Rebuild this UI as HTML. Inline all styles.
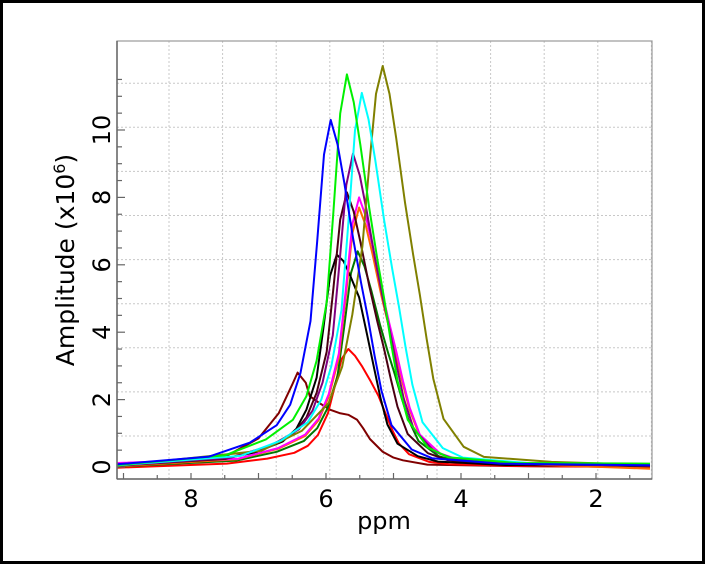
<!DOCTYPE html>
<html><head><meta charset="utf-8"><style>
html,body{margin:0;padding:0;background:#fff;}
svg{display:block;font-family:"DejaVu Sans","Liberation Sans",sans-serif;}
</style></head><body>
<svg id="chart" width="705" height="564" viewBox="0 0 705 564" xmlns="http://www.w3.org/2000/svg">
<rect x="1.5" y="1.5" width="702" height="561" fill="#fff" stroke="#000" stroke-width="3"/>
<g id="grid"></g>
<g id="series"></g>
<rect x="117" y="41" width="535" height="438" fill="none" stroke="#999" stroke-width="1.2"/>
<line x1="117" y1="41" x2="117" y2="479" stroke="#666" stroke-width="1.5"/>
<line x1="117" y1="479" x2="652" y2="479" stroke="#666" stroke-width="1.5"/>
<g id="axes"></g>
<text x="0" y="0" transform="translate(74,260) rotate(-90)" text-anchor="middle" font-size="25" fill="#000">Amplitude (x10<tspan baseline-shift="super" font-size="16">6</tspan>)</text>
<text x="384" y="529" text-anchor="middle" font-size="24" fill="#000">ppm</text>
</svg>
<script>
const xTickLabels = [8, 6, 4, 2];
const yTickLabels = [0, 2, 4, 6, 8, 10];
const seriesNames = ["brown","red","darkgreen","black","orange","magenta","maroon","purple","olive","cyan","green","blue"];
const seriesColors = ["#800000","#ff0000","#007800","#000000","#ff6a00","#ff00ff","#4a0012","#800080","#808000","#00ffff","#00f000","#0000ff"];
const ppmBlue = [9.1,7.73,7.13,6.73,6.53,6.38,6.23,6.13,6.03,5.93,5.83,5.73,5.60,5.48,5.38,5.28,5.18,5.03,4.73,4.43,3.43,1.2];
const ampBlue = [0.08,0.31,0.72,1.24,1.85,2.78,4.33,6.7,9.27,10.3,9.58,8.45,6.8,5.46,4.43,3.3,2.27,1.24,0.52,0.26,0.1,0.05];
const ppmGreen = [9.1,7.49,6.89,6.49,6.29,6.14,5.99,5.89,5.79,5.69,5.59,5.49,5.36,5.24,5.14,5.04,4.94,4.79,4.49,4.19,3.19,1.2];
const ampGreen = [0.06,0.35,0.82,1.4,2.1,3.15,4.89,7.57,10.49,11.65,10.83,9.55,7.69,6.17,5.01,3.73,2.56,1.4,0.58,0.29,0.12,0.1];
const ppmCyan = [9.1,7.27,6.67,6.27,6.07,5.92,5.77,5.67,5.57,5.47,5.37,5.27,5.14,5.02,4.92,4.82,4.72,4.57,4.27,3.97,2.97,1.2];
const ampCyan = [0.05,0.33,0.78,1.33,2.0,3.0,4.66,7.22,9.99,11.1,10.32,9.1,7.33,5.88,4.77,3.55,2.44,1.33,0.56,0.28,0.11,0.07];
const ppmOlive = [9.1,6.96,6.36,5.96,5.76,5.61,5.46,5.36,5.26,5.16,5.06,4.96,4.83,4.71,4.61,4.51,4.41,4.26,3.96,3.66,2.66,1.2];
const ampOlive = [0.04,0.48,1.07,1.9,2.98,4.52,6.55,8.93,11.07,11.9,11.07,9.76,7.85,6.31,5.12,3.81,2.62,1.43,0.6,0.3,0.15,0.06];
const ppmPurple = [9.1,7.4,6.8,6.4,6.2,6.05,5.9,5.8,5.7,5.6,5.5,5.4,5.27,5.15,5.05,4.95,4.85,4.7,4.4,4.1,3.1,1.2];
const ampPurple = [0.04,0.28,0.65,1.12,1.67,2.51,3.91,6.05,8.37,9.3,8.65,7.63,6.14,4.93,4.0,2.98,2.05,1.12,0.47,0.23,0.09,0.04];
const ppmMaroon = [9.1,7.49,6.89,6.49,6.29,6.14,5.99,5.89,5.79,5.69,5.59,5.49,5.36,5.24,5.14,5.04,4.94,4.79,4.49,4.19,3.19,1.2];
const ampMaroon = [0.04,0.24,0.57,0.98,1.47,2.2,3.42,5.3,7.34,8.15,7.58,6.68,5.38,4.32,3.5,2.61,1.79,0.98,0.41,0.2,0.08,0.04];
const ppmMagenta = [9.1,7.31,6.71,6.31,6.11,5.96,5.81,5.71,5.61,5.51,5.41,5.31,5.18,5.06,4.96,4.86,4.76,4.61,4.31,4.01,3.01,1.2];
const ampMagenta = [0.12,0.24,0.56,0.96,1.44,2.16,3.36,5.2,7.2,8.0,7.44,6.56,5.28,4.24,3.44,2.56,1.76,0.96,0.4,0.2,0.12,0.08];
const ppmOrange = [9.1,7.31,6.71,6.31,6.11,5.96,5.81,5.71,5.61,5.51,5.41,5.31,5.18,5.06,4.96,4.86,4.76,4.61,4.31,4.01,3.01,1.2];
const ampOrange = [0.02,0.23,0.54,0.92,1.39,2.08,3.23,5.0,6.93,7.7,7.16,6.31,5.08,4.08,3.31,2.46,1.69,0.92,0.39,0.19,0.08,-0.05];
const ppmBlack = [9.1,7.64,7.04,6.64,6.44,6.29,6.14,6.04,5.94,5.84,5.74,5.64,5.51,5.39,5.29,5.19,5.09,4.94,4.64,4.34,3.34,1.2];
const ampBlack = [0.03,0.19,0.44,0.76,1.13,1.7,2.65,4.1,5.67,6.3,6.11,5.67,5.04,3.91,2.96,2.02,1.26,0.69,0.32,0.16,0.06,0.03];
const ppmDarkgreen = [9.1,7.33,6.73,6.33,6.13,5.98,5.83,5.73,5.63,5.53,5.43,5.33,5.2,5.08,4.98,4.88,4.78,4.63,4.33,4.03,3.03,1.2];
const ampDarkgreen = [0.01,0.19,0.45,0.77,1.15,1.73,2.69,4.16,5.76,6.4,5.95,5.25,4.22,3.39,2.75,2.05,1.41,0.77,0.32,0.16,0.06,0.02];
const ppmRed = [9.1,7.47,6.87,6.47,6.27,6.12,5.97,5.87,5.77,5.67,5.57,5.47,5.34,5.22,5.12,5.02,4.92,4.77,4.47,4.17,3.17,1.2];
const ampRed = [-0.02,0.1,0.25,0.42,0.63,0.95,1.6,2.4,3.2,3.5,3.3,3.0,2.55,2.1,1.6,1.1,0.7,0.38,0.15,0.08,0.03,0.0];
const ppmBrown = [9.1,7.5,7.0,6.7,6.5,6.42,6.3,6.24,6.1,5.94,5.8,5.67,5.54,5.45,5.35,5.16,5.0,4.86,4.5,3.0,1.2];
const ampBrown = [0.02,0.3,0.85,1.6,2.45,2.8,2.5,2.1,1.9,1.7,1.6,1.55,1.4,1.15,0.83,0.45,0.28,0.2,0.07,0.02,0.0];
const seriesPpm = [ppmBrown,ppmRed,ppmDarkgreen,ppmBlack,ppmOrange,ppmMagenta,ppmMaroon,ppmPurple,ppmOlive,ppmCyan,ppmGreen,ppmBlue];
const seriesAmp = [ampBrown,ampRed,ampDarkgreen,ampBlack,ampOrange,ampMagenta,ampMaroon,ampPurple,ampOlive,ampCyan,ampGreen,ampBlue];

const NS = "http://www.w3.org/2000/svg";
const L = 117, R = 652, T = 41, B = 479;
function xScale(p){ return 191 + (8 - p) * 67.5; }
function yScale(a){ return 467 - a * 33.7; }

const grid = document.getElementById('grid');
for (let gx = 169; gx < R; gx += 53.6) {
  const ln = document.createElementNS(NS,'line');
  ln.setAttribute('x1',gx); ln.setAttribute('x2',gx); ln.setAttribute('y1',T); ln.setAttribute('y2',B);
  ln.setAttribute('stroke','#c8c8c8'); ln.setAttribute('stroke-dasharray','2,2');
  
  
  grid.appendChild(ln);
}
for (let gy = 436; gy > T; gy -= 44.1) {
  const ln = document.createElementNS(NS,'line');
  ln.setAttribute('x1',L); ln.setAttribute('x2',R); ln.setAttribute('y1',gy); ln.setAttribute('y2',gy);
  ln.setAttribute('stroke','#c8c8c8'); ln.setAttribute('stroke-dasharray','2,2');
  
  
  grid.appendChild(ln);
}

const sg = document.getElementById('series');
const clip = document.createElementNS(NS,'clipPath');
clip.setAttribute('id','plotclip');
const cr = document.createElementNS(NS,'rect');
cr.setAttribute('x',L); cr.setAttribute('y',T); cr.setAttribute('width',R-L); cr.setAttribute('height',B-T);
clip.appendChild(cr);
document.getElementById('chart').appendChild(clip);
sg.setAttribute('clip-path','url(#plotclip)');
for (let i = 0; i < seriesNames.length; i++) {
  const ps = seriesPpm[i], as = seriesAmp[i];
  let d = '';
  for (let j = 0; j < ps.length; j++) {
    d += (j ? 'L' : 'M') + xScale(ps[j]).toFixed(1) + ',' + yScale(as[j]).toFixed(1);
  }
  const path = document.createElementNS(NS,'path');
  path.setAttribute('d', d);
  path.setAttribute('fill','none');
  path.setAttribute('stroke', seriesColors[i]);
  path.setAttribute('stroke-width','2');
  path.setAttribute('stroke-linejoin','round');
  
  
  sg.appendChild(path);
}

const axes = document.getElementById('axes');
for (let v = 0; v <= 11.5; v += 0.5) {
  const y = yScale(v);
  const major = Math.abs(v - Math.round(v/2)*2) < 1e-6;
  const tk = document.createElementNS(NS,'line');
  tk.setAttribute('x1',L); tk.setAttribute('x2',L + (major ? 8 : 5)); tk.setAttribute('y1',y); tk.setAttribute('y2',y);
  tk.setAttribute('stroke','#666'); tk.setAttribute('stroke-width','1.2');
  
  
  axes.appendChild(tk);
}
for (const v of yTickLabels) {
  const t = document.createElementNS(NS,'text');
  t.setAttribute('transform','translate(110,' + yScale(v) + ') rotate(-90)');
  t.setAttribute('text-anchor','middle');
  t.setAttribute('font-size','24');
  t.textContent = v;
  
  
  axes.appendChild(t);
}
for (let p = 9; p >= 1.5; p -= 0.5) {
  const x = xScale(p);
  if (x < L || x > R) continue;
  const major = Math.abs(p - Math.round(p)) < 1e-6;
  const tk = document.createElementNS(NS,'line');
  tk.setAttribute('x1',x); tk.setAttribute('x2',x); tk.setAttribute('y1',B); tk.setAttribute('y2',B - (major ? 6 : 4));
  tk.setAttribute('stroke','#666'); tk.setAttribute('stroke-width','1.2');
  
  
  axes.appendChild(tk);
}
for (const v of xTickLabels) {
  const t = document.createElementNS(NS,'text');
  t.setAttribute('x', xScale(v));
  t.setAttribute('y', 507);
  t.setAttribute('text-anchor','middle');
  t.setAttribute('font-size','24');
  t.textContent = v;
  
  
  axes.appendChild(t);
}
</script>
</body></html>
